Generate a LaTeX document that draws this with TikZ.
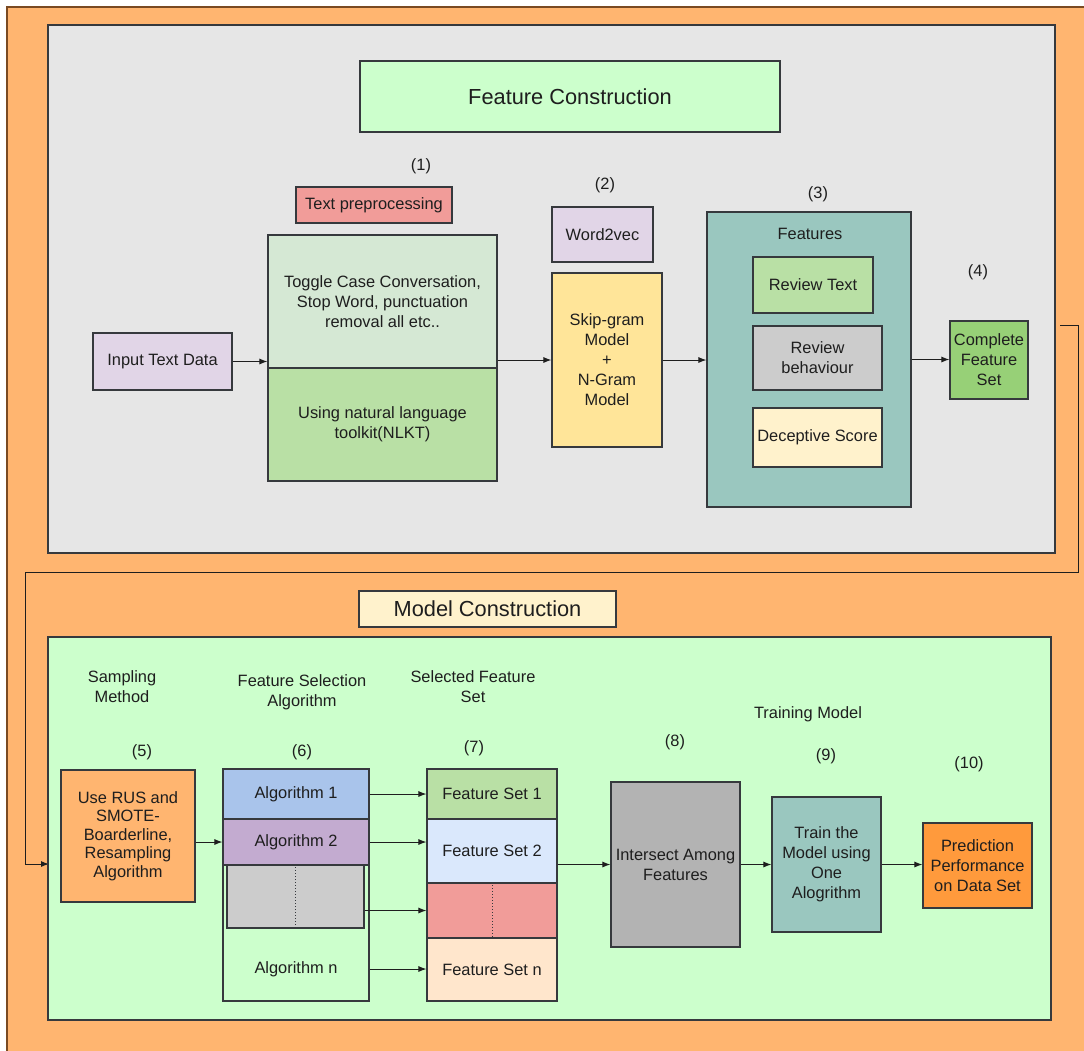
\documentclass[tikz,border=0pt]{standalone}
\usepackage{fontspec}
\setmainfont{Liberation Sans}
\usetikzlibrary{arrows.meta}
\definecolor{bgorange}{HTML}{FFB570}
\definecolor{rim}{HTML}{7A4A22}
\definecolor{edge}{HTML}{36393D}
\definecolor{ink}{HTML}{1E1E1E}
\definecolor{panelgray}{HTML}{E6E6E6}
\definecolor{mint}{HTML}{CCFFCC}
\definecolor{salmon}{HTML}{F19C99}
\definecolor{palegreen}{HTML}{D5E8D4}
\definecolor{leaf}{HTML}{B9E0A5}
\definecolor{lilac}{HTML}{E1D5E7}
\definecolor{butter}{HTML}{FFE599}
\definecolor{teal}{HTML}{9AC7BF}
\definecolor{midgray}{HTML}{CCCCCC}
\definecolor{darkgray}{HTML}{B3B3B3}
\definecolor{cream}{HTML}{FFF2CC}
\definecolor{brightgreen}{HTML}{97D077}
\definecolor{algblue}{HTML}{A9C4EB}
\definecolor{algpurple}{HTML}{C3ABD0}
\definecolor{paleblue}{HTML}{DAE8FC}
\definecolor{peach}{HTML}{FFE6CC}
\definecolor{deeporange}{HTML}{FF9A3C}
\begin{document}
\begin{tikzpicture}[x=1pt,y=-1pt,
  box/.style={draw=edge,line width=1.1pt,inner sep=2pt,align=center,text=ink,
    font=\fontsize{16.4}{20}\selectfont},
  lbl/.style={align=center,text=ink,font=\fontsize{16.4}{20}\selectfont},
  title/.style={font=\fontsize{21.8}{25}\selectfont},
  arr/.style={-{Latex[length=8pt,width=6pt]},line width=1pt,draw=ink}]
    \fill[white] (0,0) rectangle (1084,1050);
    \clip (0,0) rectangle (1084,1050);
    \draw[fill=bgorange,draw=rim,line width=1.2pt] (7,7) rectangle (1100,1070);

    % feature construction
    \node[box,fill=panelgray,minimum width=1007,minimum height=528] (toppanel) at (551.5,289) {};
    \node[box,title,fill=mint,minimum width=420,minimum height=71] (fctitle) at (570,96.5) {Feature Construction};
    \node[lbl] (n1) at (421,166) {(1)};
    \node[box,fill=salmon,minimum width=156,minimum height=36] (prep) at (374,205) {Text preprocessing};
    \node[box,fill=palegreen,minimum width=229,minimum height=133] (clean) at (382.5,301.5) {Toggle Case Conversation,\\Stop Word, punctuation\\removal all etc..};
    \node[box,fill=leaf,minimum width=229,minimum height=113] (nltk) at (382.5,424.5) {Using natural language\\toolkit(NLKT)};
    \node[box,fill=lilac,minimum width=139,minimum height=57] (input) at (162.5,361.5) {Input Text Data};
    \node[lbl] (n2) at (605,185) {(2)};
    \node[box,fill=lilac,minimum width=101,minimum height=55] (w2v) at (602.5,234.5) {Word2vec};
    \node[box,fill=butter,minimum width=110,minimum height=174] (skip) at (607,360) {Skip-gram\\Model\\+\\N-Gram\\Model};
    \node[lbl] (n3) at (818,194) {(3)};
    \node[box,fill=teal,minimum width=204,minimum height=295] (feat) at (809,359.5) {};
    \node[lbl] (featlbl) at (810,234) {Features};
    \node[box,fill=leaf,minimum width=120,minimum height=56] (rtext) at (813,285) {Review Text};
    \node[box,fill=midgray,minimum width=129,minimum height=64] (rbeh) at (817.5,358) {Review\\behaviour};
    \node[box,fill=cream,minimum width=129,minimum height=59] (dscore) at (817.5,437.5) {Deceptive Score};
    \node[lbl] (n4) at (978,272) {(4)};
    \node[box,fill=brightgreen,minimum width=78,minimum height=78] (full) at (989,360) {Complete\\Feature\\Set};

    \draw[arr] (input.east) -- (input.east -| clean.west);
    \draw[arr] (clean.east |- skip.west) -- (skip.west);
    \draw[arr] (skip.east) -- (skip.east -| feat.west);
    \draw[arr] (feat.east) -- (feat.east -| full.west);

    % link down to model construction
    \coordinate (jstart) at (1060,325);
    \coordinate (jend) at (49,864);
    \draw[arr] (jstart) -- (1078,325) -- (1078,572) -- (25,572) |- (jend);

    % model construction
    \node[box,title,fill=cream,minimum width=257,minimum height=36] (mctitle) at (487.5,609) {Model Construction};
    \node[box,fill=mint,minimum width=1003,minimum height=383] (botpanel) at (549.5,828.5) {};
    \node[lbl] (samp) at (122,687) {Sampling\\Method};
    \node[lbl] (fsel) at (302,692) {Feature Selection\\Algorithm};
    \node[lbl] (sfs) at (473,687) {Selected Feature\\Set};
    \node[lbl] (trainlbl) at (808,714) {Training Model};
    \node[lbl] (n5) at (142,752) {(5)};
    \node[lbl] (n6) at (302,752) {(6)};
    \node[lbl] (n7) at (474,748) {(7)};
    \node[lbl] (n8) at (675,742) {(8)};
    \node[lbl] (n9) at (826,756) {(9)};
    \node[lbl] (n10) at (969,764) {(10)};

    \node[box,fill=bgorange,minimum width=134,minimum height=132,font=\fontsize{16.4}{18.5}\selectfont] (rus) at (128,836) {Use RUS and\\SMOTE-\\Boarderline,\\Resampling\\Algorithm};

    \node[box,minimum width=146,minimum height=232] (algcol) at (296,885) {};
    \node[box,fill=algblue,minimum width=146,minimum height=50] (alg1) at (296,794) {Algorithm 1};
    \node[box,fill=algpurple,minimum width=146,minimum height=46] (alg2) at (296,842) {Algorithm 2};
    \node[box,fill=midgray,minimum width=137,minimum height=63] (algdots) at (295.5,896.5) {};
    \draw[dotted,line width=1pt,draw=edge] (algdots.north) -- (algdots.south);
    \node[lbl] (algn) at (296,969) {Algorithm n};

    \node[box,fill=leaf,minimum width=130,minimum height=50] (fs1) at (492,794) {Feature Set 1};
    \node[box,fill=paleblue,minimum width=130,minimum height=64] (fs2) at (492,851) {Feature Set 2};
    \node[box,fill=salmon,minimum width=130,minimum height=55] (fsdots) at (492,910.5) {};
    \draw[dotted,line width=1pt,draw=edge] (fsdots.north) -- (fsdots.south);
    \node[box,fill=peach,minimum width=130,minimum height=63] (fsn) at (492,969.5) {Feature Set n};

    \node[box,fill=darkgray,minimum width=129,minimum height=165] (inter) at (675.5,864.5) {Intersect Among\\Features};
    \node[box,fill=teal,minimum width=109,minimum height=135] (train) at (826.5,864.5) {Train the\\Model using\\One\\Alogrithm};
    \node[box,fill=deeporange,minimum width=109,minimum height=85] (pred) at (977.5,865.5) {Prediction\\Performance\\on Data Set};

    \draw[arr] (rus.east |- alg2.west) -- (alg2.west);
    \draw[arr] (alg1.east) -- (alg1.east -| fs1.west);
    \draw[arr] (alg2.east) -- (alg2.east -| fs2.west);
    \draw[arr] (algdots.east |- fsdots.west) -- (fsdots.west);
    \draw[arr] (algcol.east |- algn) -- (algn -| fsn.west);
    \draw[arr] (fs2.east |- inter.west) -- (inter.west);
    \draw[arr] (inter.east) -- (inter.east -| train.west);
    \draw[arr] (train.east) -- (train.east -| pred.west);
\end{tikzpicture}
\end{document}
